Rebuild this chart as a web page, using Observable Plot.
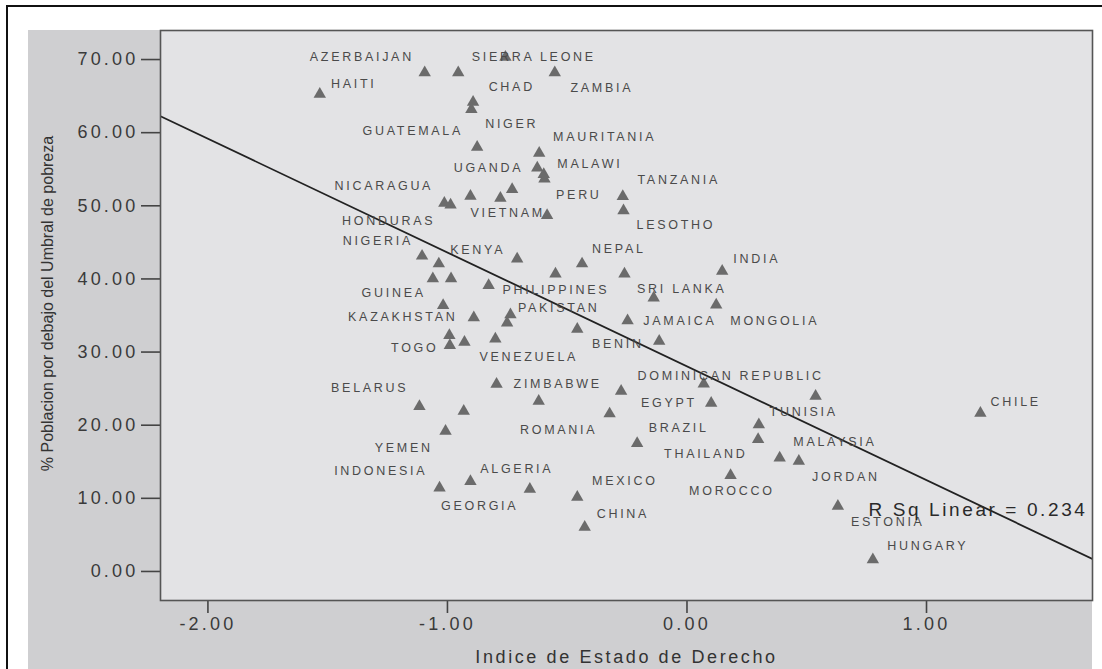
<!DOCTYPE html>
<html><head><meta charset="utf-8">
<script src="https://cdn.jsdelivr.net/npm/d3@7"></script>
<script src="https://cdn.jsdelivr.net/npm/@observablehq/plot@0.6"></script>
<style>
html,body{margin:0;padding:0;background:#fff;}
#wrap{position:relative;width:1102px;height:669px;overflow:hidden;}
#border{position:absolute;left:6px;top:5px;width:1300px;height:900px;border-left:2px solid #111;border-top:2px solid #111;}
#panel{position:absolute;left:28px;top:30px;width:1064px;height:660px;background:#cfcfd1;}
#chart{position:absolute;left:0;top:0;}
g[aria-label="y-axis tick label"] text, g[aria-label="x-axis tick label"] text{letter-spacing:3.2px;}
</style>
</head><body>
<div id="wrap"><div id="border"></div><div id="panel"></div><div id="chart"></div></div>
<script>
// Scatter points (Indice de Estado de Derecho, % Poblacion bajo umbral de pobreza)
const pointX = [-1.533,-1.095,-0.955,-0.758,-0.552,-0.893,-0.900,-0.876,-0.617,-0.625,-0.598,-0.595,-0.730,-0.904,-0.779,-1.013,-0.987,-0.268,-0.265,-0.584,
  -1.106,-1.036,-1.061,-0.985,-0.828,-0.709,-0.549,-0.438,-0.261,0.147,-0.139,0.122,-1.018,-0.890,-0.737,-0.751,-0.248,-0.458,-0.992,-0.990,
  -0.929,-0.800,-0.116,-0.795,-0.619,-0.275,0.070,-1.117,-0.932,-0.323,0.101,0.537,1.225,0.300,0.297,-1.008,-0.208,0.387,0.467,-1.033,
  -0.904,-0.656,-0.458,0.182,0.630,-0.427,0.776];
const pointY = [65.25,68.22,68.22,70.31,68.22,64.16,63.17,58.01,57.19,55.19,54.28,53.69,52.23,51.31,51.04,50.35,50.13,51.27,49.32,48.67,
  43.13,42.07,40.04,40.04,39.10,42.75,40.70,42.07,40.70,41.06,37.39,36.46,36.37,34.69,35.10,34.00,34.28,33.14,32.27,30.90,
  31.35,31.81,31.49,25.61,23.28,24.65,25.66,22.56,21.92,21.56,23.01,23.97,21.64,20.06,18.05,19.18,17.50,15.54,15.08,11.44,
  12.31,11.25,10.16,13.13,8.93,6.06,1.60];

// Country labels and their positions (data units)
const labelText = ["AZERBAIJAN","SIERRA LEONE","HAITI","CHAD","ZAMBIA","GUATEMALA","NIGER","MAURITANIA","UGANDA","MALAWI",
  "NICARAGUA","PERU","TANZANIA","HONDURAS","VIETNAM","LESOTHO","NIGERIA","KENYA","NEPAL","INDIA",
  "GUINEA","PHILIPPINES","SRI LANKA","PAKISTAN","KAZAKHSTAN","JAMAICA","MONGOLIA","TOGO","BENIN","VENEZUELA",
  "DOMINICAN REPUBLIC","BELARUS","ZIMBABWE","EGYPT","TUNISIA","CHILE","ROMANIA","BRAZIL","YEMEN","MALAYSIA",
  "THAILAND","INDONESIA","ALGERIA","MEXICO","JORDAN","MOROCCO","GEORGIA","CHINA","ESTONIA","HUNGARY"];
const labelX = [-1.363,-0.645,-1.397,-0.737,-0.361,-1.150,-0.737,-0.349,-0.834,-0.411,
  -1.271,-0.457,-0.040,-1.251,-0.754,-0.052,-1.296,-0.879,-0.290,0.286,
  -1.230,-0.553,-0.027,-0.541,-1.192,-0.035,0.361,-1.142,-0.294,-0.666,
  0.177,-1.330,-0.545,-0.081,0.482,1.367,-0.541,-0.040,-1.188,0.612,
  0.073,-1.284,-0.716,-0.265,0.658,0.182,-0.871,-0.273,0.833,1.000];
const labelY = [70.41,70.41,66.72,66.31,66.04,60.16,61.12,59.34,55.11,55.78,
  52.64,51.54,53.46,47.99,48.95,47.31,45.12,43.89,44.03,42.79,
  38.01,38.42,38.69,35.96,34.73,34.18,34.18,30.49,31.17,29.26,
  26.66,25.02,25.70,22.97,21.74,23.24,19.41,19.55,16.95,17.77,
  16.00,13.67,13.95,12.31,12.85,10.94,9.02,7.79,6.70,3.42];

// Linear fit and annotation
const fitIntercept = 28.05;
const fitSlope = -15.56;
const rsqText = "R Sq Linear = 0.234";
const rsqPos = [0.758, 8.48];

// Axes
const xDomain = [-2.198, 1.693];
const yDomain = [-3.97, 73.97];
const xTicks = [-2, -1, 0, 1];
const yTicks = [0, 10, 20, 30, 40, 50, 60, 70];
const xTitle = "Indice de Estado de Derecho";
const yTitle = "% Poblacion por debajo del Umbral de pobreza";

const points = pointX.map((x, i) => ({x, y: pointY[i]}));
const labels = labelText.map((t, i) => ({t, x: labelX[i], y: labelY[i]}));
const fitLine = xDomain.map(x => ({x, y: fitIntercept + fitSlope * x}));

const chart = Plot.plot({
  width: 1102, height: 669,
  marginLeft: 160, marginTop: 30, marginRight: 10, marginBottom: 69,
  x: {domain: xDomain},
  y: {domain: yDomain},
  style: {background: "transparent", fontFamily: "'Liberation Sans', Arial, sans-serif", color: "#333", overflow: "visible"},
  marks: [
    Plot.frame({fill: "#e3e3e5"}),
    Plot.axisY(yTicks, {tickFormat: d => d.toFixed(2), tickSize: 19, tickPadding: 3, fontSize: 18, strokeWidth: 1.6, stroke: "#444", fill: "#3a3a3a", label: null}),
    Plot.axisX(xTicks, {tickFormat: d => d.toFixed(2), tickSize: 13, tickPadding: 4, fontSize: 18, strokeWidth: 1.6, stroke: "#444", fill: "#3a3a3a", label: null}),
    Plot.text([yTitle], {text: d => d, frameAnchor: "left", textAnchor: "middle", lineAnchor: "middle", rotate: -90, dx: -113, dy: -12, fontSize: 16, fill: "#333"}),
    Plot.text([xTitle], {text: d => d, frameAnchor: "bottom", dy: 62, fontSize: 18, fill: "#333"}),
    Plot.line(fitLine, {x: "x", y: "y", stroke: "#222", strokeWidth: 1.8, clip: true}),
    Plot.dot(points, {x: "x", y: "y", symbol: "triangle", r: 4.6, fill: "#6b6b6b", stroke: "none"}),
    Plot.text(labels, {x: "x", y: "y", text: "t", fontSize: 12.5, dx: 1.3, fill: "#4a4a4a"}),
    Plot.text([rsqText], {x: () => rsqPos[0], y: () => rsqPos[1], text: d => d, textAnchor: "start", fontSize: 19, fill: "#2a2a2a"}),
    Plot.frame({stroke: "#555", strokeWidth: 1.6})
  ]
});
document.getElementById("chart").appendChild(chart);

// Horizontal stretch of the original rendering approximated with letter spacing
const labelSet = new Set(labelText);
d3.select(chart).selectAll("text").each(function() {
  const t = this.textContent;
  if (labelSet.has(t)) this.style.letterSpacing = "2.7px";
  else if (t === rsqText) this.style.letterSpacing = "2.6px";
  else if (t === xTitle) this.style.letterSpacing = "2.6px";
});
</script>
</body></html>
